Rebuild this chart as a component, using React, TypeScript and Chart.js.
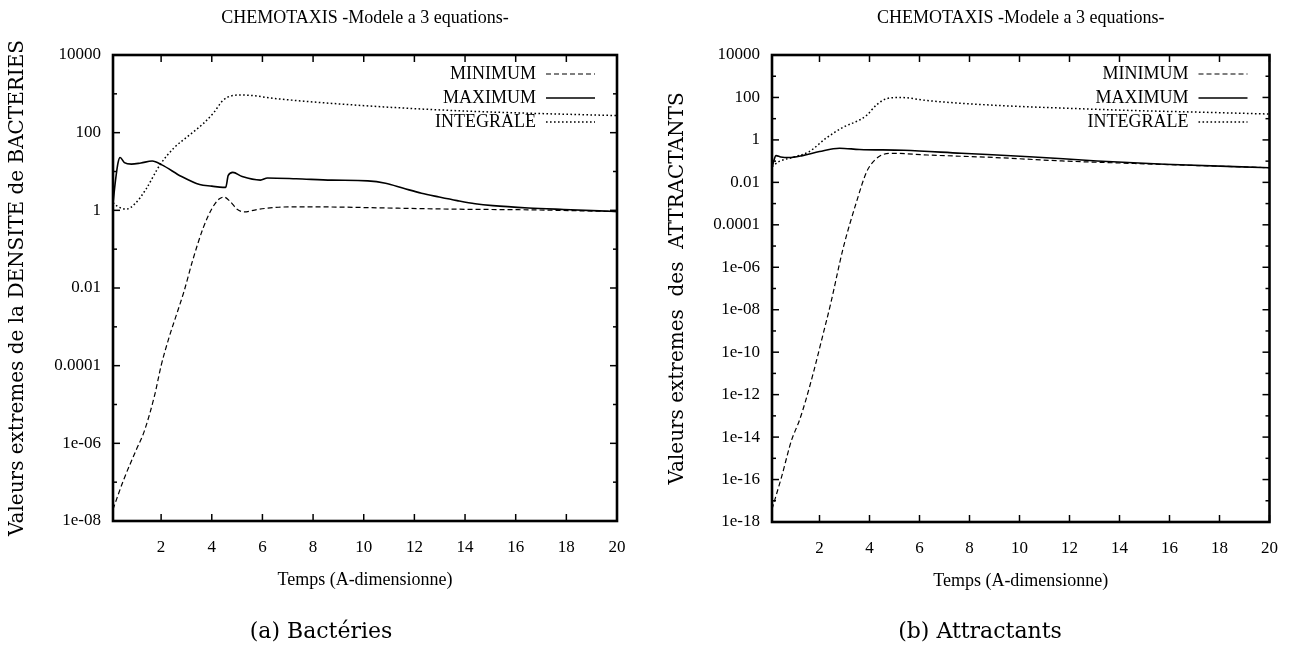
import React, { useEffect, useRef } from "react";
import { Chart, registerables } from "chart.js";

Chart.register(...registerables);

// ---------- Data ----------
const xTicks = [2, 4, 6, 8, 10, 12, 14, 16, 18, 20];
const xLabels = ["2", "4", "6", "8", "10", "12", "14", "16", "18", "20"];

const bactYTicks = [1e4, 1e2, 1, 1e-2, 1e-4, 1e-6, 1e-8];
const bactYLabels = ["10000", "100", "1", "0.01", "0.0001", "1e-06", "1e-08"];
const bactYMinor = [1e3, 1e1, 1e-1, 1e-3, 1e-5, 1e-7];

const attrYTicks = [1e4, 1e2, 1, 1e-2, 1e-4, 1e-6, 1e-8, 1e-10, 1e-12, 1e-14, 1e-16, 1e-18];
const attrYLabels = ["10000", "100", "1", "0.01", "0.0001", "1e-06", "1e-08", "1e-10", "1e-12", "1e-14", "1e-16", "1e-18"];
const attrYMinor = [1e3, 1e1, 1e-1, 1e-3, 1e-5, 1e-7, 1e-9, 1e-11, 1e-13, 1e-15, 1e-17];

// Bacteria (a)
const bactMinT = [0.1, 0.52, 1.01, 1.34, 1.75, 2.0, 2.3, 2.6, 2.9, 3.24, 3.66, 4.01, 4.29, 4.48, 4.72, 5.0, 5.28, 5.78, 6.63, 7.33, 8.74, 10.86, 13.7, 16.5, 20];
const bactMinV = [2e-8, 1.15e-7, 6.6e-7, 2.1e-6, 1.8e-5, 1e-4, 5e-4, 2e-3, 8e-3, 0.05, 0.35, 1.12, 1.95, 2.2, 1.7, 1.07, 0.91, 1.05, 1.2, 1.23, 1.22, 1.15, 1.07, 1.03, 0.93];

const bactMaxT = [0.1, 0.2, 0.3, 0.38, 0.55, 0.83, 1.2, 1.65, 2.03, 2.81, 3.52, 4.0, 4.44, 4.55, 4.65, 4.83, 5.2, 5.92, 6.2, 7.33, 8.74, 10.16, 10.86, 11.57, 12.28, 12.98, 13.69, 14.4, 15.1, 16.5, 17.9, 20];
const bactMaxV = [1.5, 6, 17, 23, 17, 15.5, 16.6, 18.6, 14.8, 7.4, 4.6, 4.2, 3.9, 3.9, 7.9, 9.5, 7.4, 6.0, 6.8, 6.5, 6.0, 5.75, 5.0, 3.7, 2.75, 2.2, 1.78, 1.48, 1.32, 1.15, 1.05, 0.93];

const bactIntT = [0.1, 0.25, 0.62, 0.98, 1.4, 1.96, 2.5, 3.1, 3.66, 4.08, 4.44, 4.79, 5.21, 6.62, 9.45, 12.27, 15.1, 20];
const bactIntV = [1.58, 1.3, 1.07, 1.5, 3.5, 15, 40, 85, 170, 330, 676, 891, 933, 741, 525, 407, 339, 275];

// Attractants (b)
const attrMinT = [0.1, 0.48, 0.88, 1.2, 1.45, 1.78, 2.1, 2.45, 2.94, 3.48, 3.89, 4.22, 4.56, 4.97, 6.32, 9.02, 11.7, 14.4, 17.1, 20];
const attrMinV = [4e-18, 1.3e-16, 7e-15, 6.3e-14, 5.4e-13, 1.4e-11, 4.4e-10, 2e-8, 7.4e-6, 1.2e-3, 0.032, 0.115, 0.209, 0.234, 0.195, 0.148, 0.102, 0.079, 0.062, 0.049];

const attrMaxT = [0.1, 0.18, 0.26, 0.45, 0.78, 1.32, 2.0, 2.8, 3.6, 5.37, 7.67, 10.4, 13.1, 15.8, 20];
const attrMaxV = [0.046, 0.112, 0.182, 0.158, 0.148, 0.182, 0.282, 0.407, 0.355, 0.324, 0.234, 0.162, 0.102, 0.071, 0.049];

const attrIntT = [0.1, 0.37, 0.91, 1.59, 2.26, 2.94, 3.62, 3.89, 4.29, 4.7, 5.24, 6.32, 9.02, 11.7, 14.4, 17.1, 20];
const attrIntV = [0.055, 0.095, 0.148, 0.282, 1.2, 3.9, 8.9, 14.5, 45.7, 89, 100, 71, 42.7, 31.6, 24.5, 20.4, 16.6];

const seriesNames = ["MINIMUM", "MAXIMUM", "INTEGRALE"];
const chartTitle = "CHEMOTAXIS -Modele a 3 equations-";
const xTitle = "Temps (A-dimensionne)";

// ---------- Styles ----------
const GNU = "'Liberation Serif', 'Times New Roman', serif";
const TEX = "'DejaVu Serif', serif";
const dashes = [[5, 3], [], [1.6, 2.4]];
const widths = [1.2, 1.6, 1.5];

type Spec = {
  canvasLeft: number;
  yWidth: number;
  padRight: number;
  padBottom: number;
  yMin: number;
  yMax: number;
  yTicks: number[];
  yLabels: string[];
  yMinor: number[];
  yTitle: string;
  yTitlePad: number;
  series: { t: number[]; v: number[] }[];
};

function makeFramePlugin(spec: Spec) {
  return {
    id: "gnuFrame",
    afterDatasetsDraw(chart: any) {
      const { ctx, chartArea } = chart;
      const { left, right, top, bottom } = chartArea;
      const xs = chart.scales.x;
      const ys = chart.scales.y;
      ctx.save();
      ctx.strokeStyle = "#000";
      ctx.setLineDash([]);
      ctx.lineWidth = 1.5;
      const seg = (x1: number, y1: number, x2: number, y2: number) => {
        ctx.beginPath();
        ctx.moveTo(x1, y1);
        ctx.lineTo(x2, y2);
        ctx.stroke();
      };
      for (const v of xTicks) {
        const px = xs.getPixelForValue(v);
        seg(px, bottom, px, bottom - 7);
        seg(px, top, px, top + 7);
      }
      for (const v of spec.yTicks) {
        const py = ys.getPixelForValue(v);
        seg(left, py, left + 7, py);
        seg(right, py, right - 7, py);
      }
      for (const v of spec.yMinor) {
        const py = ys.getPixelForValue(v);
        seg(left, py, left + 4, py);
        seg(right, py, right - 4, py);
      }
      ctx.lineWidth = 2.6;
      ctx.strokeRect(left, top, right - left, bottom - top);

      // legend
      ctx.font = `18px ${GNU}`;
      ctx.fillStyle = "#000";
      ctx.textAlign = "right";
      ctx.textBaseline = "middle";
      seriesNames.forEach((name, i) => {
        const y = top + 19 + i * 24;
        ctx.fillText(name, right - 81, y);
        ctx.lineWidth = widths[i];
        ctx.setLineDash(dashes[i]);
        seg(right - 71, y, right - 22, y);
      });
      ctx.restore();
    },
  };
}

function Panel({ spec }: { spec: Spec }) {
  const ref = useRef<HTMLCanvasElement>(null);
  useEffect(() => {
    const tickFont = { family: GNU, size: 17 };
    const chart = new Chart(ref.current as HTMLCanvasElement, {
      type: "line",
      data: {
        datasets: spec.series.map((s, i) => ({
          label: seriesNames[i],
          data: s.t.map((t, k) => ({ x: t, y: s.v[k] })),
          borderColor: "#000",
          backgroundColor: "#000",
          borderWidth: widths[i],
          borderDash: dashes[i],
          pointRadius: 0,
          fill: false,
          cubicInterpolationMode: "monotone" as const,
        })),
      },
      options: {
        responsive: false,
        animation: false,
        events: [],
        layout: { padding: { left: 0, top: 0, right: spec.padRight, bottom: spec.padBottom } },
        plugins: {
          legend: { display: false },
          tooltip: { enabled: false },
          title: {
            display: true,
            text: chartTitle,
            color: "#000",
            fullSize: false,
            font: { family: GNU, size: 18, weight: "normal" },
            padding: { top: 7, bottom: 26.4 },
          },
        },
        scales: {
          x: {
            type: "linear",
            min: 0.1,
            max: 20,
            afterBuildTicks: (s: any) => {
              s.ticks = xTicks.map((v) => ({ value: v }));
            },
            afterFit: (s: any) => {
              s.height = 70;
            },
            grid: { display: false, drawTicks: false },
            border: { display: false },
            ticks: {
              autoSkip: false,
              maxRotation: 0,
              color: "#000",
              font: tickFont,
              padding: 16,
              callback: (_v: any, i: number) => xLabels[i],
            },
            title: {
              display: true,
              text: xTitle,
              color: "#000",
              font: { family: GNU, size: 18 },
              padding: { top: 0, bottom: 0 },
            },
          },
          y: {
            type: "logarithmic",
            min: spec.yMin,
            max: spec.yMax,
            afterBuildTicks: (s: any) => {
              s.ticks = spec.yTicks.map((v) => ({ value: v }));
            },
            afterFit: (s: any) => {
              s.width = spec.yWidth;
            },
            grid: { display: false, drawTicks: false },
            border: { display: false },
            ticks: {
              autoSkip: false,
              color: "#000",
              font: tickFont,
              padding: 12,
              callback: (_v: any, i: number) => spec.yLabels[i],
            },
            title: {
              display: true,
              text: spec.yTitle,
              color: "#000",
              font: { family: TEX, size: 20 },
              padding: { top: spec.yTitlePad, bottom: 0 },
            },
          },
        },
      } as any,
      plugins: [makeFramePlugin(spec)],
    });
    return () => chart.destroy();
  }, [spec]);
  return (
    <canvas
      ref={ref}
      width={647}
      height={656}
      style={{ position: "absolute", left: spec.canvasLeft, top: 0, width: 647, height: 656 }}
    />
  );
}

const bactSpec: Spec = {
  canvasLeft: 0,
  yWidth: 113,
  padRight: 30,
  padBottom: 65,
  yMin: 1e-8,
  yMax: 1e4,
  yTicks: bactYTicks,
  yLabels: bactYLabels,
  yMinor: bactYMinor,
  yTitle: "Valeurs extremes de la DENSITE de BACTERIES",
  yTitlePad: 6,
  series: [
    { t: bactMinT, v: bactMinV },
    { t: bactMaxT, v: bactMaxV },
    { t: bactIntT, v: bactIntV },
  ],
};

const attrSpec: Spec = {
  canvasLeft: 647,
  yWidth: 125,
  padRight: 17,
  padBottom: 64,
  yMin: 1e-18,
  yMax: 1e4,
  yTicks: attrYTicks,
  yLabels: attrYLabels,
  yMinor: attrYMinor,
  yTitle: "Valeurs extremes  des  ATTRACTANTS",
  yTitlePad: 19,
  series: [
    { t: attrMinT, v: attrMinV },
    { t: attrMaxT, v: attrMaxV },
    { t: attrIntT, v: attrIntV },
  ],
};

const captionStyle = (cx: number): React.CSSProperties => ({
  position: "absolute",
  left: cx - 150,
  width: 300,
  top: 617,
  lineHeight: "28px",
  textAlign: "center",
  fontFamily: TEX,
  fontSize: 22,
  color: "#000",
  whiteSpace: "pre",
});

export default function App() {
  return (
    <div style={{ position: "fixed", left: 0, top: 0, width: 1294, height: 656, background: "#fff", overflow: "hidden" }}>
      <Panel spec={bactSpec} />
      <Panel spec={attrSpec} />
      <div style={captionStyle(321)}>(a) Bactéries</div>
      <div style={captionStyle(980)}>(b) Attractants</div>
    </div>
  );
}
